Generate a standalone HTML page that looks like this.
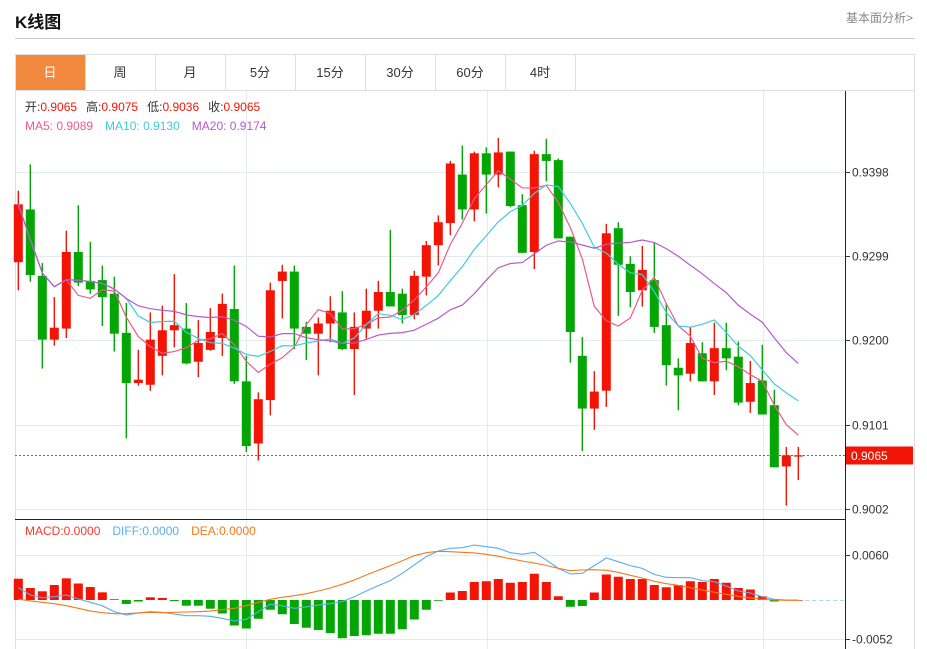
<!DOCTYPE html>
<html><head><meta charset="utf-8"><style>
body{margin:0;width:927px;height:649px;overflow:hidden;background:#fff;font-family:"Liberation Sans","Noto Sans CJK SC",sans-serif;}
.t{position:absolute}
</style></head><body>
<div class="t" style="left:15px;top:8px;font-size:17px;font-weight:bold;color:#111">K线图</div>
<div class="t" style="left:846px;top:9px;font-size:12px;color:#888">基本面分析&gt;</div>
<div class="t" style="left:15px;top:38px;width:900px;height:1px;background:#ccc"></div>
<svg class="t" style="left:0;top:0" width="927" height="649" id="svg"></svg>
<script>
const dates=66;
const opens=[.9292,.9354,.9276,.9201,.9214,.9304,.9270,.9271,.9255,.9209,.9150,.9148,.9182,.9212,.9214,.9175,.9189,.9203,.9237,.9152,.9079,.9130,.9270,.9281,.9216,.9208,.9220,.9233,.9190,.9214,.9235,.9257,.9255,.9230,.9275,.9312,.9338,.9395,.9354,.9420,.9395,.9422,.9359,.9304,.9419,.9412,.9322,.9182,.9120,.9141,.9332,.9290,.9259,.9271,.9218,.9168,.9161,.9185,.9152,.9191,.9181,.9128,.9153,.9124,.9052,.9065];
const highs=[.9376,.9407,.9291,.9251,.9329,.9359,.9316,.9288,.9275,.9244,.9189,.9233,.9241,.9278,.9244,.9224,.9238,.9255,.9288,.9182,.9139,.9268,.9289,.9288,.9222,.9227,.9252,.9258,.9233,.9261,.9270,.9330,.9261,.9282,.9317,.9347,.9411,.9429,.9422,.9427,.9438,.9422,.9372,.9423,.9437,.9414,.9322,.9204,.9164,.9337,.9339,.9299,.9311,.9315,.9244,.9179,.9216,.9198,.9221,.9221,.9199,.9176,.9195,.9142,.9075,.9075];
const lows=[.9259,.9269,.9167,.9194,.9203,.9264,.9255,.9217,.9187,.9085,.9147,.9141,.9159,.9192,.9172,.9157,.9188,.9182,.9149,.9069,.9059,.9112,.9226,.9190,.9177,.9159,.9198,.9189,.9136,.9202,.9214,.9240,.9220,.9225,.9253,.9288,.9324,.9342,.9340,.9349,.9380,.9357,.9303,.9284,.9387,.9320,.9174,.9070,.9095,.9122,.9229,.9239,.9240,.9209,.9147,.9118,.9152,.9152,.9136,.9165,.9124,.9115,.9113,.9051,.9006,.9036];
const closes=[.9360,.9277,.9201,.9215,.9304,.9268,.9260,.9251,.9208,.9150,.9154,.9201,.9212,.9218,.9173,.9197,.9210,.9243,.9152,.9076,.9131,.9259,.9281,.9214,.9208,.9220,.9235,.9190,.9216,.9235,.9257,.9240,.9230,.9276,.9312,.9339,.9408,.9354,.9420,.9395,.9421,.9358,.9303,.9419,.9411,.9320,.9210,.9120,.9140,.9326,.9289,.9257,.9283,.9216,.9171,.9159,.9197,.9152,.9191,.9179,.9127,.9150,.9113,.9051,.9065,.9065];
const diffVals=[1.64,.67,.31,.44,.67,.13,-.31,-.76,-1.56,-2.0,-1.73,-1.56,-1.64,-1.87,-2.09,-2.09,-2.18,-2.44,-2.8,-2.58,-1.56,-.58,-.76,-1.11,-.93,-.67,-.49,-.22,.44,1.2,1.91,2.58,3.56,4.67,5.78,6.53,6.89,6.98,7.33,7.11,6.89,6.31,6.09,6.36,5.33,4.22,3.47,3.56,4.58,5.6,5.11,4.58,4.22,3.42,3.02,2.98,2.98,2.58,2.44,1.87,1.2,.93,.44,.09,0,0];
const deaVals=[.13,-.13,-.31,-.49,-.76,-1.11,-1.47,-1.69,-1.82,-1.82,-1.73,-1.64,-1.69,-1.64,-1.6,-1.56,-1.47,-1.29,-1.11,-.76,-.31,.09,.36,.58,.84,1.2,1.6,2.09,2.67,3.33,3.96,4.58,5.24,5.91,6.31,6.49,6.44,6.36,6.27,6.09,5.82,5.51,5.2,4.93,4.62,4.22,3.91,4.0,4.04,3.96,3.69,3.29,2.93,2.49,2.18,1.96,1.64,1.33,1.02,.76,.49,.27,.09,0,-.04,-.04];
const macdVals=[2.84,1.6,1.16,2.0,2.89,2.2,1.73,1.02,.1,-.53,-.2,.36,.27,-.13,-.76,-.76,-1.16,-1.8,-3.4,-3.8,-2.5,-1.3,-1.9,-3.2,-3.7,-4.0,-4.4,-5.1,-4.8,-4.7,-4.5,-4.5,-3.9,-2.6,-1.3,-.1,1.0,1.2,2.4,2.5,2.8,2.3,2.4,3.5,2.4,.5,-.9,-.8,1.0,3.4,3.1,2.8,2.8,2.0,1.7,2.0,2.5,2.4,2.8,2.3,1.6,1.4,.5,-.2,0,0];
const priceTicks=[0.9398,0.9299,0.9200,0.9101,0.9002];
const macdTicks=[0.0060,-0.0052];
const tabs=["日","周","月","5分","15分","30分","60分","4时"];

const NS="http://www.w3.org/2000/svg",svg=document.getElementById('svg');
function mk(tag,at,parent){const e=document.createElementNS(NS,tag);for(const k in at)e.setAttribute(k,at[k]);(parent||svg).appendChild(e);return e;}
const X=i=>18.3+12*i;
const Y=p=>172+(0.9398-p)/0.0099*84.25;
const MY=v=>600-v*7.5; // v in thousandths
// frame
let e;
e=mk('rect',{x:15.5,y:54.5,width:899,height:600,fill:'none',stroke:'#ddd'});

mk('line',{x1:15,y1:90.5,x2:915,y2:90.5,stroke:'#ddd'});
tabs.forEach((t,i)=>{
  const g=mk('g',{});
  
  
  if(i===0)mk('rect',{x:16,y:55,width:69,height:35,fill:'#f0883e'},g);
  mk('line',{x1:85.5+70*i,y1:55,x2:85.5+70*i,y2:90,stroke:'#ddd'},g);
  const tx=mk('text',{x:50+70*i,y:77,'text-anchor':'middle','font-size':13,fill:i===0?'#fff':'#333'},g);tx.textContent=t;
});
// grid
[246,487,763].forEach(x=>{mk('line',{x1:x+.5,y1:91,x2:x+.5,y2:649,stroke:'#e3ebf0'});});
priceTicks.forEach(p=>{const y=Math.round(Y(p))+.5;
  e=mk('line',{x1:15,y1:y,x2:845,y2:y,stroke:'#e3ebf0'});
  mk('line',{x1:845,y1:y,x2:850,y2:y,stroke:'#333'});
  const t=mk('text',{x:852,y:y+4,'font-size':12,fill:'#333'});t.textContent=p.toFixed(4);
  
});
macdTicks.forEach(v=>{const y=Math.round(MY(v*1000))+.5;
  mk('line',{x1:15,y1:y,x2:845,y2:y,stroke:'#e3ebf0'});
  mk('line',{x1:845,y1:y,x2:850,y2:y,stroke:'#333'});
  const t=mk('text',{x:852,y:y+4,'font-size':12,fill:'#333'});t.textContent=v.toFixed(4);
  
});
// candles
for(let i=0;i<dates;i++){
  const up=closes[i]>=opens[i],c=up?'#f21505':'#04a605',x=X(i);
  const g=mk('g',{});
  
  
  mk('line',{x1:x,y1:Y(highs[i]),x2:x,y2:Y(lows[i]),stroke:c,'stroke-width':1.4},g);
  const t=Y(Math.max(opens[i],closes[i])),b=Y(Math.min(opens[i],closes[i]));
  mk('rect',{x:x-4.5,y:t,width:9,height:Math.max(1.2,b-t),fill:c},g);
}
// MAs
function ma(n){return closes.map((_,i)=>{const s=closes.slice(Math.max(0,i-n+1),i+1);return s.reduce((a,b)=>a+b,0)/s.length;});}
[[5,'#ec5a8d','ma5-line'],[10,'#3fcbe0','ma10-line'],[20,'#b45cc8','ma20-line']].forEach(([n,c,nm])=>{
  e=mk('polyline',{points:ma(n).map((v,i)=>X(i)+','+Y(v)).join(' '),fill:'none',stroke:c,'stroke-width':1.2});
  
});
// last price line
const ly=Math.round(Y(closes[dates-1]))+.5;
e=mk('line',{x1:15,y1:ly,x2:845,y2:ly,stroke:'#e33','stroke-dasharray':'2,2'});

e=mk('rect',{x:845,y:ly-9,width:68,height:18,fill:'#f21505'});

e=mk('text',{x:851,y:ly+4.5,'font-size':12,fill:'#fff'});e.textContent=closes[dates-1].toFixed(4);
// MACD
e=mk('line',{x1:X(dates-1),y1:600.5,x2:845,y2:600.5,stroke:'#a8d8ea','stroke-dasharray':'4,3'});
for(let i=0;i<dates;i++){
  const v=macdVals[i],c=v>=0?'#f21505':'#04a605';
  const y0=MY(0),y1=MY(v);
  e=mk('rect',{x:X(i)-4.5,y:Math.min(y0,y1),width:9,height:Math.max(0.5,Math.abs(y1-y0)),fill:c});
  
}
e=mk('polyline',{points:diffVals.map((v,i)=>X(i)+','+MY(v)).join(' '),fill:'none',stroke:'#58aef0','stroke-width':1.1});

e=mk('polyline',{points:deaVals.map((v,i)=>X(i)+','+MY(v)).join(' '),fill:'none',stroke:'#f27a1e','stroke-width':1.1});

// axes
mk('line',{x1:845.5,y1:91,x2:845.5,y2:649,stroke:'#222'});
mk('line',{x1:15,y1:519.5,x2:845,y2:519.5,stroke:'#222'});
// legends
function legend(y,parts,nm){const t=mk('text',{x:25,y:y,'font-size':12});
  parts.forEach(([s,c,dx])=>{const sp=mk('tspan',{fill:c},t);if(dx)sp.setAttribute('dx',dx);sp.textContent=s;});}
legend(111,[['开:','#333'],['0.9065','#f21505'],['高:','#333',9],['0.9075','#f21505'],['低:','#333',9],['0.9036','#f21505'],['收:','#333',9],['0.9065','#f21505']],'ohlc-legend');
legend(130,[['MA5: 0.9089','#ec5a8d'],['MA10: 0.9130','#3fcbe0',12],['MA20: 0.9174','#b45cc8',12]],'ma-legend');
legend(535,[['MACD:0.0000','#f23a2a'],['DIFF:0.0000','#58aef0',12],['DEA:0.0000','#f27a1e',12]],'macd-legend');
</script>
</body></html>
